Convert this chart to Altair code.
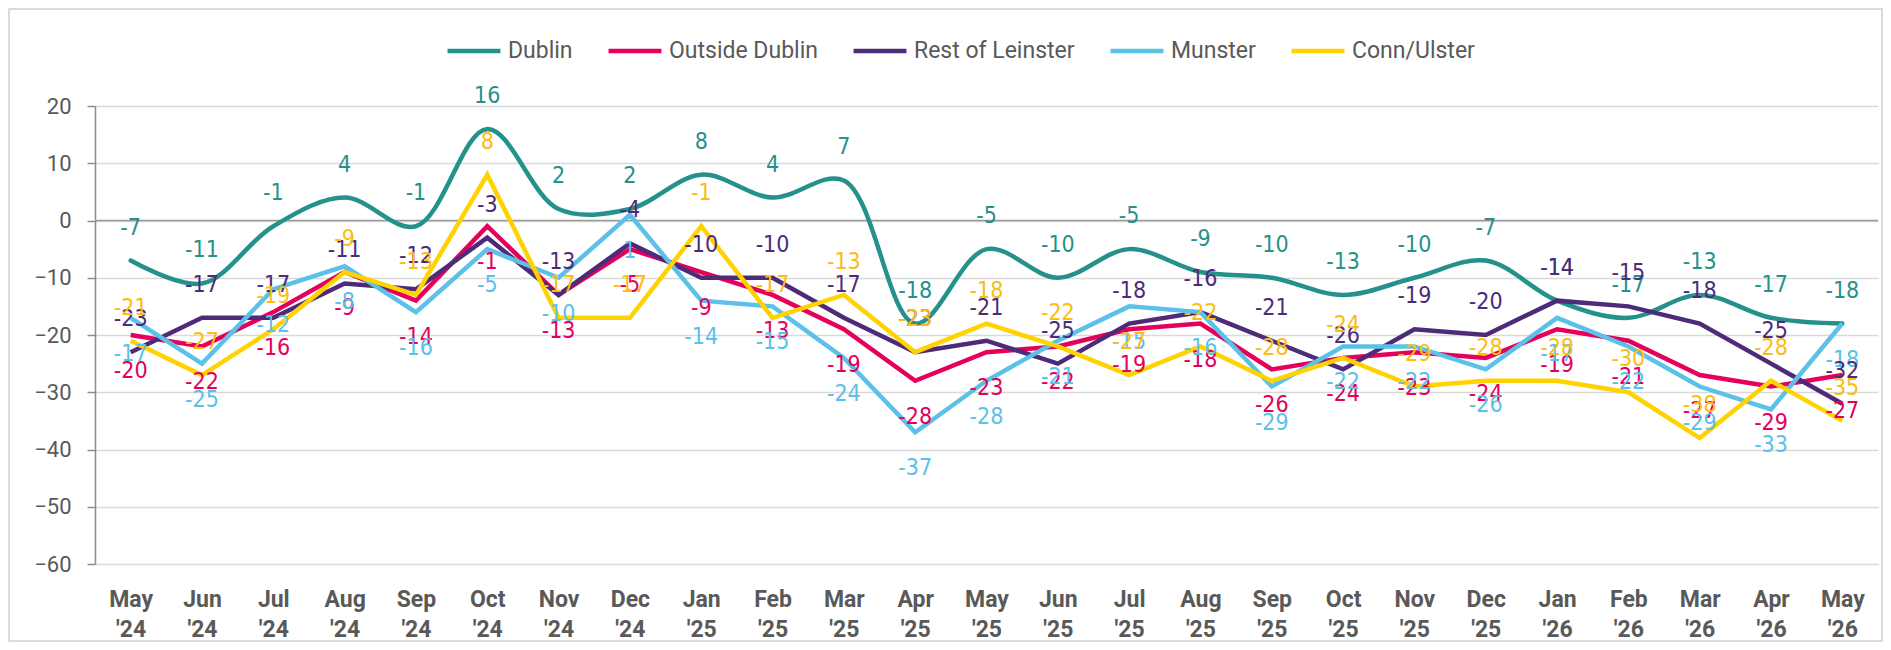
import altair as alt
import pandas as pd

months = ["May '24", "Jun '24", "Jul '24", "Aug '24", "Sep '24", "Oct '24", "Nov '24", "Dec '24",
          "Jan '25", "Feb '25", "Mar '25", "Apr '25", "May '25", "Jun '25", "Jul '25", "Aug '25",
          "Sep '25", "Oct '25", "Nov '25", "Dec '25", "Jan '26", "Feb '26", "Mar '26", "Apr '26", "May '26"]
series_names = ["Dublin", "Outside Dublin", "Rest of Leinster", "Munster", "Conn/Ulster"]
dublin = [-7, -11, -1, 4, -1, 16, 2, 2, 8, 4, 7, -18, -5, -10, -5, -9, -10, -13, -10, -7, -14, -17, -13, -17, -18]
outside = [-20, -22, -16, -9, -14, -1, -13, -5, -9, -13, -19, -28, -23, -22, -19, -18, -26, -24, -23, -24, -19, -21, -27, -29, -27]
leinster = [-23, -17, -17, -11, -12, -3, -13, -4, -10, -10, -17, -23, -21, -25, -18, -16, -21, -26, -19, -20, -14, -15, -18, -25, -32]
munster = [-17, -25, -12, -8, -16, -5, -10, 1, -14, -15, -24, -37, -28, -21, -15, -16, -29, -22, -22, -26, -17, -22, -29, -33, -18]
conn = [-21, -27, -19, -9, -13, 8, -17, -17, -1, -17, -13, -23, -18, -22, -27, -22, -28, -24, -29, -28, -28, -30, -38, -28, -35]

line_colors = ["#25918b", "#e4005b", "#4e2b79", "#5cc1e8", "#ffd200"]
label_colors = ["#25918b", "#e4005b", "#4e2b79", "#5cc1e8", "#fbbc14"]
label_above = [True, False, True, False, True]

values = [dublin, outside, leinster, munster, conn]
rows = []
for name, vals, lc, above in zip(series_names, values, label_colors, label_above):
    for m, v in zip(months, vals):
        rows.append({"month": m, "series": name, "value": v, "txt": str(v), "lab": lc,
                     "pos": "above" if above else "below"})
df = pd.DataFrame(rows)

FONT = "Roboto"
LABEL_FONT = "Liberation Sans Narrow, DejaVu Sans Condensed, Roboto Condensed, Arial Narrow, Roboto, sans-serif"
W, H = 1783, 458

x_enc = alt.X("month:N", sort=months, scale=alt.Scale(type="point", padding=0.5),
              axis=alt.Axis(title=None, domain=False, ticks=False, tickSize=0, grid=False,
                            labelAngle=0, labelFont=FONT, labelFontSize=23, labelFontWeight="bold",
                            labelColor="#595959", labelExpr="split(datum.label, ' ')",
                            labelLineHeight=30, labelPadding=24))
y_enc = alt.Y("value:Q", scale=alt.Scale(domain=[-60, 20], nice=False, zero=False),
              axis=alt.Axis(title=None, values=list(range(-60, 21, 10)), grid=True,
                            gridColor="#d9d9d9", gridWidth=1.5, domainColor="#8c8c8c",
                            domainWidth=1.5, tickColor="#8c8c8c", tickSize=8, tickWidth=1.5,
                            labelFont=FONT, labelFontSize=22, labelColor="#595959",
                            labelPadding=16))
color_enc = alt.Color("series:N", scale=alt.Scale(domain=series_names, range=line_colors),
                      legend=alt.Legend(title=None, orient="none", direction="horizontal",
                                        columns=5, legendX=350, legendY=-84, padding=0,
                                        symbolType="stroke", symbolSize=2800,
                                        symbolStrokeWidth=4.5, labelFont=FONT,
                                        labelFontSize=23, labelColor="#595959", labelLimit=0,
                                        labelOffset=5, columnPadding=26))

base = alt.Chart(df)

frame = alt.Chart(pd.DataFrame({"a": [0]})).mark_rect(
    fill=None, stroke="#d0d0d0", strokeWidth=1.5
).encode(x=alt.value(-86), x2=alt.value(1787), y=alt.value(-97), y2=alt.value(535))

zero = alt.Chart(pd.DataFrame({"value": [0]})).mark_rule(
    color="#9a9a9a", strokeWidth=1.5
).encode(y=alt.Y("value:Q", scale=alt.Scale(domain=[-60, 20], nice=False, zero=False)))

line_layers = []
for name in series_names:
    mk = base.transform_filter(alt.datum.series == name)
    if name == "Dublin":
        m = mk.mark_line(strokeWidth=4.5, interpolate="catmull-rom", strokeCap="round")
    else:
        m = mk.mark_line(strokeWidth=4.5, strokeJoin="miter", strokeCap="butt")
    line_layers.append(m.encode(x=x_enc, y=y_enc, color=color_enc))

txt_above = base.transform_filter(alt.datum.pos == "above").mark_text(
    font=LABEL_FONT, fontSize=23, dy=-33, baseline="middle", align="center"
).encode(x=x_enc, y=y_enc, text=alt.Text("txt:N"), color=alt.Color("lab:N", scale=None))
txt_below = base.transform_filter(alt.datum.pos == "below").mark_text(
    font=LABEL_FONT, fontSize=23, dy=36, baseline="middle", align="center"
).encode(x=x_enc, y=y_enc, text=alt.Text("txt:N"), color=alt.Color("lab:N", scale=None))

chart = alt.layer(frame, zero, *line_layers, txt_below, txt_above).properties(
    width=W, height=H,
    autosize=alt.AutoSizeParams(type="none"),
    padding={"left": 87, "top": 98, "right": 5, "bottom": 78},
    background="white",
).configure_view(stroke=None)

chart.save("out.html", embed_options={"renderer": "svg", "actions": False})
